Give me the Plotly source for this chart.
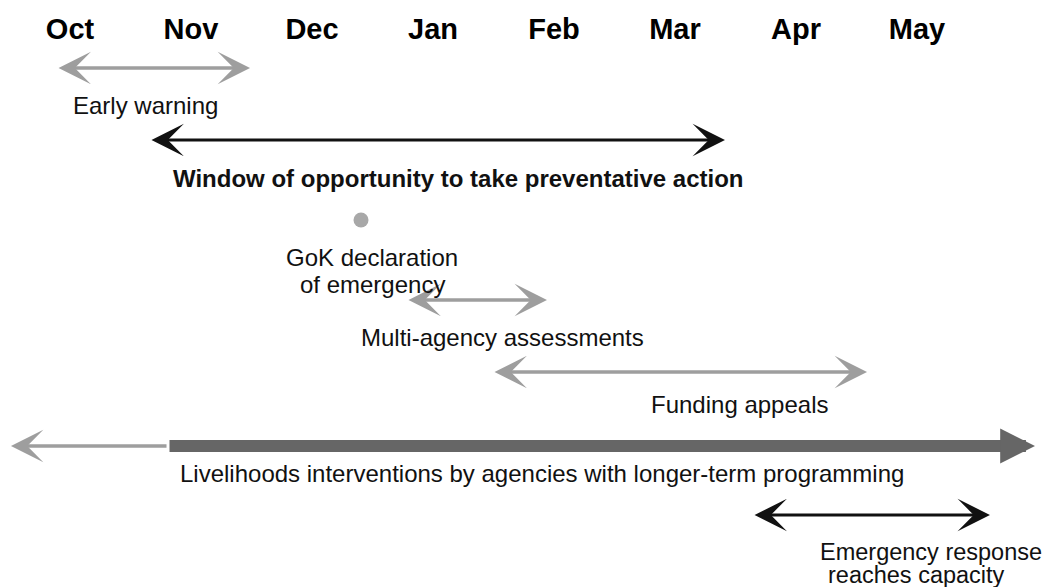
import plotly.graph_objects as go

# ---- data ----
months = ["Oct", "Nov", "Dec", "Jan", "Feb", "Mar", "Apr", "May"]
month_pos = list(range(len(months)))  # month index on the time axis
month_row = 32

# double-headed period arrows (time axis in months from Oct)
period_labels = ["Early warning", "Window of opportunity", "Multi-agency assessments",
                 "Funding appeals", "Emergency response"]
period_start = [-0.107, 0.661, 2.785, 3.496, 5.645]
period_end = [1.488, 5.413, 3.942, 6.587, 7.603]
period_row = [68, 140, 300, 372, 515]
period_dark = [False, True, False, False, True]

# livelihoods: earlier (thin, grey) and ongoing (thick, dark)
live_prev_start = 0.81
live_prev_end = -0.488
live_start = 0.81
live_end = 7.975
live_row = 446

# GoK declaration point
gok_time = [2.405]
gok_row = [220]

# text labels
label_text = ["Early warning",
              "<b>Window of opportunity to take preventative action</b>",
              "GoK declaration", "of emergency",
              "Multi-agency assessments",
              "Funding appeals",
              "Livelihoods interventions by agencies with longer-term programming"]
label_time = [0.624, 3.21, 2.496, 2.496, 3.575, 5.537, 3.90]
label_row = [105, 178, 257, 284, 337, 404, 473]

er_text = ["Emergency response", "reaches capacity"]
er_time = [6.185, 6.25]
er_row = [552, 575]

GREY = "#9e9e9e"
DARK = "#111111"
THICK = "#666666"
FONT = "Arial, Liberation Sans, sans-serif"

fig = go.Figure()

# month headings
fig.add_trace(go.Scatter(
    x=month_pos, y=[month_row] * len(months), mode="text",
    text=["<b>%s</b>" % m for m in months],
    textfont=dict(family=FONT, size=29, color="#000000"),
    textposition="middle center", hoverinfo="skip"))

# GoK dot
fig.add_trace(go.Scatter(
    x=gok_time, y=gok_row, mode="markers",
    marker=dict(size=15, color="#a8a8a8", line=dict(width=0)),
    hoverinfo="skip"))

annotations = []
for s, e, r, dark in zip(period_start, period_end, period_row, period_dark):
    col = DARK if dark else GREY
    w = 3 if dark else 3.5
    annotations.append(dict(
        x=e, y=r, ax=s, ay=r, xref="x", yref="y", axref="x", ayref="y",
        text="", showarrow=True, arrowside="end+start",
        arrowhead=3, startarrowhead=3,
        arrowsize=5.4 / w, startarrowsize=5.4 / w,
        arrowwidth=w, arrowcolor=col, standoff=0, startstandoff=0))

# thin grey arrow to the left (earlier livelihoods)
annotations.append(dict(
    x=live_prev_end, y=live_row, ax=live_prev_start, ay=live_row,
    xref="x", yref="y", axref="x", ayref="y", text="", showarrow=True,
    arrowhead=3, arrowsize=5.4 / 3.5, arrowwidth=3.5, arrowcolor=GREY, standoff=0))
# thick dark arrow to the right
annotations.append(dict(
    x=live_end, y=live_row, ax=live_start, ay=live_row,
    xref="x", yref="y", axref="x", ayref="y", text="", showarrow=True,
    arrowhead=2, arrowsize=0.58, arrowwidth=12, arrowcolor=THICK, standoff=0))

for t, x, y in zip(label_text, label_time, label_row):
    annotations.append(dict(x=x, y=y, xref="x", yref="y", text=t, showarrow=False,
                            xanchor="center", yanchor="middle",
                            font=dict(family=FONT, size=24, color="#111111")))
for t, x, y in zip(er_text, er_time, er_row):
    annotations.append(dict(x=x, y=y, xref="x", yref="y", text=t, showarrow=False,
                            xanchor="left", yanchor="middle",
                            font=dict(family=FONT, size=23.5, color="#111111")))

fig.update_layout(
    width=1048, height=587,
    margin=dict(l=0, r=0, t=0, b=0),
    paper_bgcolor="white", plot_bgcolor="white",
    showlegend=False,
    xaxis=dict(range=[-70 / 121, 978 / 121], visible=False, fixedrange=True),
    yaxis=dict(range=[587, 0], visible=False, fixedrange=True),
    annotations=annotations,
)

# remove the default page margin so the figure fills the window exactly
fig.write_html("out.html",
               config={"displayModeBar": False, "staticPlot": True},
               post_script="document.body.style.margin='0px';document.body.style.overflow='hidden';")
